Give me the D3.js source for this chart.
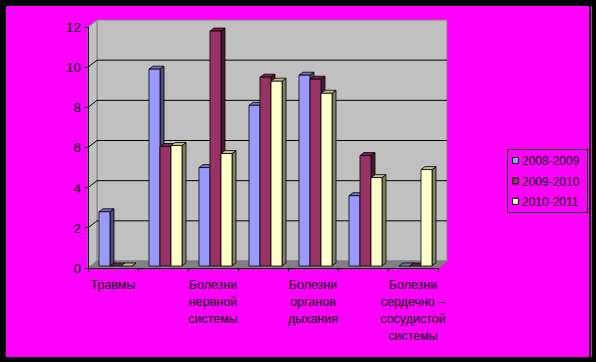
<!DOCTYPE html>
<html><head><meta charset="utf-8">
<script src="https://cdn.jsdelivr.net/npm/d3@7"></script>
<style>html,body{margin:0;padding:0;background:#000;}svg{display:block;}</style>
</head><body>
<svg id="c" width="596" height="362"></svg>
<script>
const categories = ["Травмы", "", "Болезни\nнервной\nсистемы", "", "Болезни\nорганов\nдыхания", "", "Болезни\nсердечно –\nсосудистой\nсистемы"];
const seriesNames = ["2008-2009", "2009-2010", "2010-2011"];
const s2008 = [2.7, 9.8, 4.9, 8.0, 9.5, 3.5, 0];
const s2009 = [0, 5.95, 11.7, 9.4, 9.3, 5.5, 0];
const s2010 = [0, 6.0, 5.6, 9.2, 8.6, 4.4, 4.8];
const seriesValues = [s2008, s2009, s2010];
const seriesColors = ["#9999ff", "#993366", "#ffffcc"];
const yTicks = [0, 2, 4, 6, 8, 10, 12];

const svg = d3.select("#c");
const font = "'Liberation Sans', Arial, sans-serif";

// frame
svg.append("rect").attr("x",0).attr("y",0).attr("width",596).attr("height",362).attr("fill","#000");
svg.append("rect").attr("x",6).attr("y",6).attr("width",583).attr("height",351).attr("fill","#ff00ff");
svg.append("line").attr("x1",591.5).attr("x2",591.5).attr("y1",6).attr("y2",357).attr("stroke","#ff00ff").attr("stroke-width",1);

const x0 = 88, x1r = 438, yBase = 268, yTop = 27;
const DX = 9, DY = -7; // wall depth
const y = d3.scaleLinear().domain([0, 12]).range([yBase, yTop]);
const xb = d3.scaleBand().domain(d3.range(categories.length)).range([x0, x1r]).paddingInner(0).paddingOuter(0);
const xs = d3.scaleBand().domain(d3.range(seriesNames.length)).range([0, xb.bandwidth()]).paddingInner(0).paddingOuter(0.77);

const g = svg.append("g");
const poly = pts => pts.map(p => p.join(",")).join(" ");

// back wall
g.append("polygon").attr("points", poly([[x0+DX, y(12)+DY],[x1r+DX, y(12)+DY],[x1r+DX, yBase+DY],[x0+DX, yBase+DY]]))
  .attr("fill","#c0c0c0").attr("stroke","#808080").attr("stroke-width",1);
// left wall
g.append("polygon").attr("points", poly([[x0, y(12)],[x0+DX, y(12)+DY],[x0+DX, yBase+DY],[x0, yBase]]))
  .attr("fill","#c0c0c0").attr("stroke","#808080").attr("stroke-width",1);
// floor
g.append("polygon").attr("points", poly([[x0, yBase],[x0+DX, yBase+DY],[x1r+DX, yBase+DY],[x1r, yBase]]))
  .attr("fill","#808080").attr("stroke","#808080").attr("stroke-width",1);

// gridlines
yTicks.filter(v => v > 0 && v < 12).forEach(v => {
  g.append("polyline").attr("points", poly([[x0, y(v)],[x0+DX, y(v)+DY],[x1r+DX, y(v)+DY]]))
    .attr("fill","none").attr("stroke","#000").attr("stroke-width",1);
});

// bars
const bdx = 2.5, bdy = -2, sdx = 4, sdy = -3;
const bars = g.append("g");
categories.forEach((c, ci) => {
  seriesValues.forEach((vals, si) => {
    const v = vals[ci];
    const col = d3.color(seriesColors[si]);
    const xl = xb(ci) + xs(si) + bdx;
    const xr = xl + xs.bandwidth();
    const yb = y(0) + bdy;
    const yt = y(v) + bdy;
    const bg = bars.append("g").attr("stroke","#000").attr("stroke-width",0.8).attr("stroke-linejoin","round");
    bg.append("polygon").attr("points", poly([[xr, yb],[xr, yt],[xr+sdx, yt+sdy],[xr+sdx, yb+sdy]]))
      .attr("fill", col.darker(2).formatHex());
    bg.append("polygon").attr("points", poly([[xl, yt],[xl+sdx, yt+sdy],[xr+sdx, yt+sdy],[xr, yt]]))
      .attr("fill", col.darker(0.8).formatHex());
    if (v > 0) {
      bg.append("rect").attr("x", xl).attr("y", yt).attr("width", xr - xl).attr("height", yb - yt)
        .attr("fill", col.formatHex());
    }
  });
});

// axes
const ax = svg.append("g").attr("stroke","#000").attr("stroke-width",1).attr("shape-rendering","crispEdges");
ax.append("line").attr("x1",x0).attr("x2",x0).attr("y1",y(12)).attr("y2",yBase);
ax.append("line").attr("x1",x0).attr("x2",x1r).attr("y1",yBase).attr("y2",yBase);
yTicks.forEach(v => ax.append("line").attr("x1",x0-4).attr("x2",x0).attr("y1",y(v)).attr("y2",y(v)));
d3.range(categories.length + 1).forEach(i => {
  const xx = i < categories.length ? xb(i) : x1r;
  ax.append("line").attr("x1",xx).attr("x2",xx).attr("y1",yBase).attr("y2",yBase+4);
});

// y tick labels
svg.append("g").selectAll("text").data(yTicks).join("text")
  .attr("x", x0 - 7).attr("y", d => y(d)).attr("dy","0.36em")
  .attr("text-anchor","end").attr("font-family",font).attr("font-size",13.5).attr("fill","#000")
  .text(d => d);

// category labels
const cl = svg.append("g");
categories.forEach((c, ci) => {
  if (!c) return;
  const t = cl.append("text").attr("text-anchor","middle").attr("font-family",font).attr("font-size",12.5).attr("fill","#000");
  c.split("\n").forEach((line, li) => {
    t.append("tspan").attr("x", xb(ci) + xb.bandwidth()/2).attr("y", 288.5 + li*17).text(line);
  });
});

// legend
const lg = svg.append("g");
lg.append("rect").attr("x",507.5).attr("y",149.5).attr("width",80).attr("height",63).attr("fill","none").attr("stroke","#000");
seriesNames.forEach((n, i) => {
  const cy = 161 + i*20.4;
  lg.append("rect").attr("x",512.5).attr("y",cy-3.5).attr("width",6).attr("height",6)
    .attr("fill",seriesColors[i]).attr("stroke","#000");
  lg.append("text").attr("x",522).attr("y",cy).attr("dy","0.36em").attr("font-family",font).attr("font-size",12)
    .attr("fill","#000").text(n);
});
</script>
</body></html>
